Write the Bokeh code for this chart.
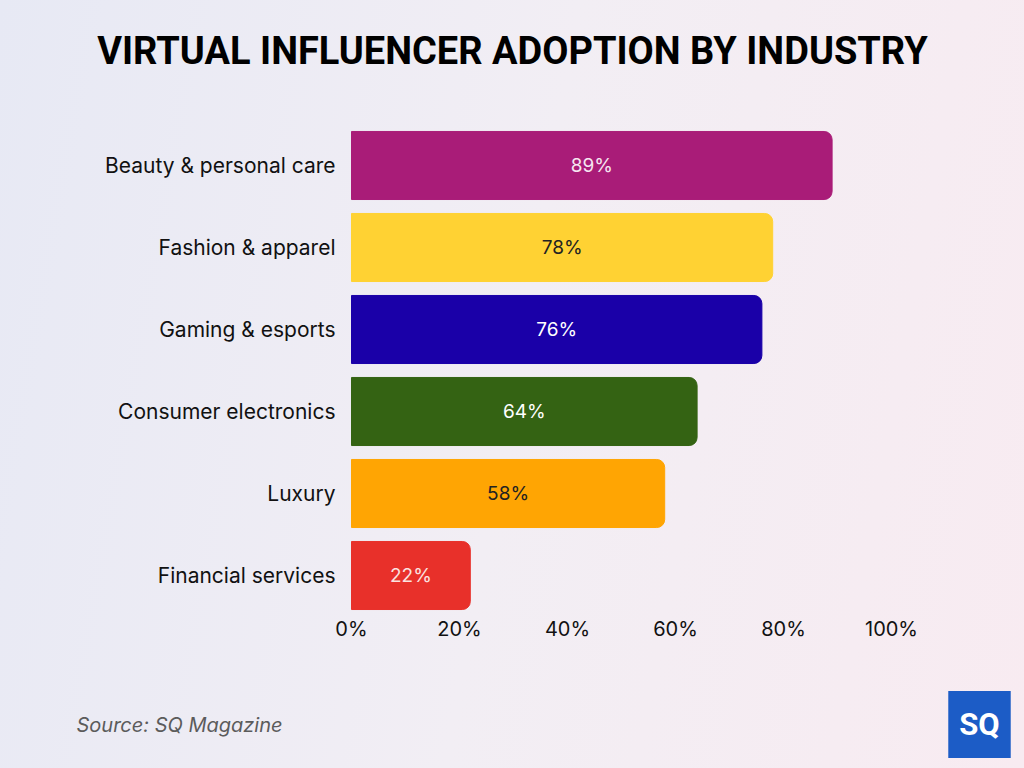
from bokeh.plotting import figure
from bokeh.models import Range1d, ColumnDataSource, Label
from bokeh.embed import file_html
from bokeh.resources import INLINE

categories = ["Beauty & personal care", "Fashion & apparel", "Gaming & esports",
              "Consumer electronics", "Luxury", "Financial services"]
values = [89, 78, 76, 64, 58, 22]
x_ticks = [0, 20, 40, 60, 80, 100]
tick_labels = ["0%", "20%", "40%", "60%", "80%", "100%"]

bar_colors = ["#a91c78", "#ffd233", "#1a00a8", "#346313", "#ffa503", "#e8302a"]
text_colors = ["#f6e6f1", "#222222", "#ffffff", "#ffffff", "#222222", "#fbe3e0"]

W, H = 1024, 768
n = len(categories)
ypos = [n - 1 - i for i in range(n)]

# layout: plotting area spans pixels 351..891 horizontally, 124..616 vertically
ppx = 540 / 100.0
ppy = 82.0
x0 = -351 / ppx
x1 = (W - 351) / ppx
y1 = (n - 0.5) + 124 / ppy
y0 = -0.5 - (H - 616) / ppy

src = ColumnDataSource(dict(
    y=ypos, v=values, mid=[v / 2 for v in values], cat=categories,
    zero=[0] * n, lab=[f"{v}%" for v in values], color=bar_colors, tcolor=text_colors))
tsrc = ColumnDataSource(dict(x=x_ticks, y=[-0.5] * len(x_ticks), lab=tick_labels))

p = figure(width=W, height=H, output_backend="svg", toolbar_location=None,
           x_range=Range1d(x0, x1), y_range=Range1d(y0, y1),
           min_border=0, x_axis_type=None, y_axis_type=None)

p.styles = {"background": "linear-gradient(100deg, #e7e9f4 0%, #f2eef4 50%, #f8ebf1 100%)"}
p.border_fill_alpha = 0
p.background_fill_alpha = 0
p.outline_line_color = None
p.grid.visible = False

p.hbar(y="y", right="v", left=0, height=0.83, color="color", source=src,
       border_radius=(0, 8, 8, 0))
p.text(x="mid", y="y", text="lab", text_color="tcolor", source=src,
       text_align="center", text_baseline="middle", text_font_size="19px",
       text_font={"value": "Inter"})
# category labels (y axis)
p.text(x="zero", y="y", text="cat", source=src, x_offset=-16,
       text_align="right", text_baseline="middle", text_font_size="21px",
       text_font={"value": "Inter"}, text_color="#111111")
# x tick labels
p.text(x="x", y="y", text="lab", source=tsrc, y_offset=12,
       text_align="center", text_baseline="middle", text_font_size="20px",
       text_font={"value": "Inter"}, text_color="#111111")

p.add_layout(Label(x=512, y=H - 50, x_units="screen", y_units="screen",
                   text="VIRTUAL INFLUENCER ADOPTION BY INDUSTRY",
                   text_align="center", text_baseline="middle", text_font="Roboto",
                   text_font_style="bold", text_font_size="38px", text_color="#000000"))
p.add_layout(Label(x=76, y=H - 724, x_units="screen", y_units="screen",
                   text="Source: SQ Magazine",
                   text_align="left", text_baseline="middle", text_font="Inter",
                   text_font_style="italic", text_font_size="20px", text_color="#5b5b5b"))
p.add_layout(Label(x=979, y=H - 724, x_units="screen", y_units="screen", text="SQ",
                   text_align="center", text_baseline="middle", text_font="Roboto",
                   text_font_style="bold", text_font_size="31px", text_color="#ffffff",
                   background_fill_color="#1c5cc6", padding=(11, 15)))

open("out.html", "w").write(file_html(p, INLINE))
